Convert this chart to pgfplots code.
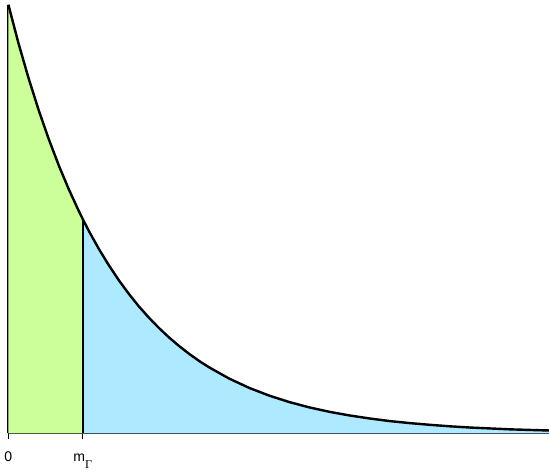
\documentclass[border=0pt]{standalone}
\usepackage{pgfplots}
\pgfplotsset{compat=1.18}
\usepackage{fontspec}
\setmainfont{Liberation Sans}
\newfontfamily\seriffont{Liberation Serif}
\definecolor{lgreen}{RGB}{204,255,153}
\definecolor{lblue}{RGB}{173,234,255}
\begin{document}
\begin{tikzpicture}
\begin{axis}[
  scale only axis, width=403.5pt, height=320pt,
  xmin=0, xmax=538, ymin=0, ymax=427,
  axis x line*=bottom, axis y line*=left,
  ytick=\empty,
  xtick={0,74},
  xticklabels={0, m\raisebox{-5.2pt}{\seriffont\fontsize{9}{9}\selectfont Γ}},
  tick align=outside, major tick length=4pt,
  every tick/.style={black, line width=1pt},
  axis line style={line width=1.5pt, black},
  xticklabel style={font=\fontsize{10.5}{12.6}\selectfont, yshift=-5pt},
  typeset ticklabels with strut,
  clip=false,
]
% left part, 0 .. m_Gamma
\addplot[draw=none, fill=lgreen] coordinates {
  (0,427.0) (10,388.8) (20,354.1) (30,322.4) (40,293.6) (50,267.3)
  (60,243.4) (70,221.7) (74,213.5)
} \closedcycle;
% right part, m_Gamma .. end
\addplot[draw=none, fill=lblue] coordinates {
  (74,213.5) (80,201.8) (90,183.8) (100,167.4) (110,152.4) (120,138.8)
  (130,126.3) (140,115.1) (150,104.8) (160,95.4) (170,86.9) (180,79.1)
  (190,72.0) (200,65.6) (220,54.4) (240,45.1) (260,37.4) (280,31.0)
  (300,25.7) (320,21.3) (340,17.7) (360,14.7) (380,12.1) (400,10.1)
  (420,8.4) (440,6.9) (460,5.7) (480,4.8) (500,3.9) (520,3.3) (538,2.8)
} \closedcycle;
% the curve
\addplot[black, line width=1.8pt, line join=round] coordinates {
  (0,427.0) (10,388.8) (20,354.1) (30,322.4) (40,293.6) (50,267.3)
  (60,243.4) (70,221.7) (74,213.5)
  (80,201.8) (90,183.8) (100,167.4) (110,152.4) (120,138.8)
  (130,126.3) (140,115.1) (150,104.8) (160,95.4) (170,86.9) (180,79.1)
  (190,72.0) (200,65.6) (220,54.4) (240,45.1) (260,37.4) (280,31.0)
  (300,25.7) (320,21.3) (340,17.7) (360,14.7) (380,12.1) (400,10.1)
  (420,8.4) (440,6.9) (460,5.7) (480,4.8) (500,3.9) (520,3.3) (538,2.8)
};
% divider at m_Gamma
\addplot[black, line width=1.5pt] coordinates {(74,0) (74,213.5)};
% a little white room above the curve's top
\path (rel axis cs:0,1) ++(0,3.5pt);
\end{axis}
\end{tikzpicture}
\end{document}
